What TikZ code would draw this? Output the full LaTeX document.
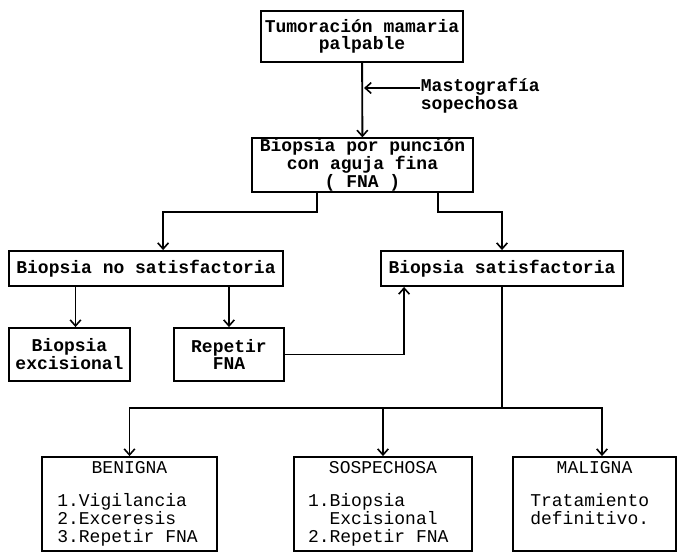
\documentclass[tikz,border=0pt]{standalone}
\usepackage{fontspec}
\setmonofont{Liberation Mono}
\usepackage{tikz}
\usetikzlibrary{arrows.meta,positioning,calc}

\begin{document}
\begin{tikzpicture}[x=0.75pt, y=-0.75pt,
    stepbox/.style={rectangle, draw=black, line width=1.4pt, inner sep=0pt, align=center, font=\fontsize{13.5}{12.4}\selectfont\ttfamily\bfseries},
    resbox/.style={rectangle, draw=black, line width=1.4pt, inner sep=0pt, minimum height=70.5pt},
    restitle/.style={inner sep=0pt, font=\fontsize{13.5}{13.5}\selectfont\ttfamily},
    reslist/.style={inner sep=0pt, align=left, anchor=north west, font=\fontsize{13.5}{13.5}\selectfont\ttfamily},
    arr/.style={-{Straight Barb[length=4.5pt, width=8pt, line width=1.2pt]}, line width=1.4pt}
]
    \useasboundingbox (0,0) rectangle (677,553);

    \node[stepbox, minimum width=151.5pt, minimum height=38.25pt] (tumor) at (362,36.5) {Tumoración mamaria\\palpable};
    \node[stepbox, minimum width=165.75pt, minimum height=36pt] (fna) at (362.5,165) {Biopsia por punción\\con aguja fina\\( FNA )};
    \node[stepbox, minimum width=205.5pt, minimum height=26.25pt] (nosat) at (146,268.5) {Biopsia no satisfactoria};
    \node[stepbox, minimum width=181.5pt, minimum height=26.25pt] (sat) at (502,268.5) {Biopsia satisfactoria};
    \node[stepbox, minimum width=90.75pt, minimum height=39.75pt] (excis) at (69.5,354.5) {Biopsia\\excisional};
    \node[stepbox, minimum width=82.5pt, minimum height=39.75pt] (repetir) at (229,354.5) {Repetir\\FNA};

    % mastografia
    \node[stepbox, draw=none, align=left, anchor=west] (masto) at (420,95.5) {Mastografía\\sopechosa};
    \coordinate (mastotip) at (364,88);
    \draw[arr] (masto.west |- mastotip) -- (mastotip);

    % resultados
    \node[resbox, minimum width=131.25pt] (benigna) at (129.5,504) {};
    \node[resbox, minimum width=133.5pt] (sospechosa) at (383,504) {};
    \node[resbox, minimum width=122.25pt] (maligna) at (594.5,504) {};
    \node[restitle, below=3.5pt of benigna.north] (benignat) {BENIGNA};
    \node[restitle, below=3.5pt of sospechosa.north] (sospechosat) {SOSPECHOSA};
    \node[restitle, below=3.5pt of maligna.north] (malignat) {MALIGNA};
    \node[reslist] (benignal) at ([xshift=12pt, yshift=-28pt]benigna.north west) {1.Vigilancia\\2.Exceresis\\3.Repetir FNA};
    \node[reslist] (sospechosal) at ([xshift=11pt, yshift=-28pt]sospechosa.north west) {1.Biopsia\\\phantom{1.}Excisional\\2.Repetir FNA};
    \node[reslist] (malignal) at ([xshift=13.5pt, yshift=-28pt]maligna.north west) {Tratamiento\\definitivo.};

    \coordinate (excistop) at ($(excis.north)+(6,0)$);
    \coordinate (sattail) at ($(sat.south west)+(24,0)$);

    \draw[arr] (tumor) -- (fna);
    \draw[arr] ($(fna.south west)!.294!(fna.south east)$) -- ++(0,19) -| ($(nosat.north west)!.562!(nosat.north east)$);
    \draw[arr] ($(fna.south west)!.837!(fna.south east)$) -- ++(0,19) -| (sat.north);
    \draw[arr] (excistop |- nosat.south) -- (excistop);
    \draw[arr] (nosat.south -| repetir.north) -- (repetir.north);
    \draw[arr] (repetir.east) -| (sattail);

    \draw[line width=1.4pt] (sat.south) -- ++(0,121) coordinate (split);
    \draw[arr] (split) -| (benigna.north);
    \draw[arr] (split) -| (sospechosa.north);
    \draw[arr] (split) -| ($(maligna.north)+(7.5,0)$);
\end{tikzpicture}
\end{document}
